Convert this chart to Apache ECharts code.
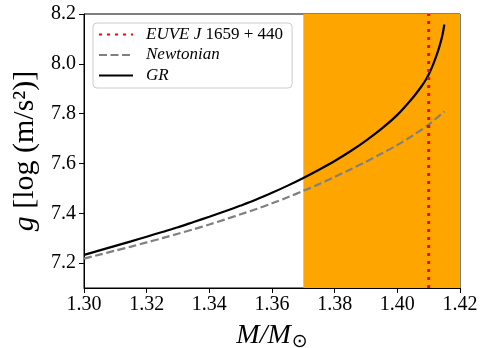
<!DOCTYPE html>
<html>
<head>
<meta charset="utf-8">
<script src="https://cdn.jsdelivr.net/npm/echarts@6/dist/echarts.min.js"></script>
<style>html,body{margin:0;padding:0;background:#fff}#c{width:480px;height:348px}</style>
</head>
<body>
<div id="c"></div>
<script>
const massGR = [1.300,1.305,1.310,1.315,1.320,1.325,1.330,1.335,1.340,1.345,1.350,1.355,1.360,1.365,1.370,1.375,1.380,1.385,1.390,1.395,1.400,1.405,1.4075,1.409,1.410,1.4115,1.413,1.414,1.4145,1.415];
const gGR    = [7.233,7.251,7.269,7.287,7.306,7.325,7.344,7.365,7.386,7.408,7.431,7.455,7.482,7.511,7.542,7.575,7.610,7.649,7.692,7.740,7.795,7.865,7.906,7.934,7.957,8.000,8.052,8.095,8.122,8.158];
const massNewt = [1.300,1.305,1.310,1.315,1.320,1.325,1.330,1.335,1.340,1.345,1.350,1.355,1.360,1.365,1.370,1.375,1.380,1.385,1.390,1.395,1.400,1.405,1.410,1.415];
const gNewt    = [7.218,7.234,7.250,7.266,7.283,7.300,7.318,7.336,7.355,7.375,7.396,7.417,7.440,7.464,7.490,7.517,7.546,7.576,7.607,7.640,7.674,7.713,7.756,7.809];
const euveMass = 1.41;
const bandRange = [1.37, 1.42];
const xTicks = [1.30,1.32,1.34,1.36,1.38,1.40,1.42];
const yTicks = [7.2,7.4,7.6,7.8,8.0,8.2];
const xRange = [1.30, 1.42];
const yRange = [7.1, 8.2];

const serif = 'Liberation Serif';
const chart = echarts.init(document.getElementById('c'), null, {renderer:'canvas'});
const zip = (a,b) => a.map((v,i)=>[v,b[i]]);

chart.setOption({
  animation:false,
  backgroundColor:'#fff',
  grid:{left:84, right:20, top:14, bottom:60, containLabel:false, outerBoundsMode:'none',
    show:true, borderColor:'#000', borderWidth:1, backgroundColor:'transparent'},
  legend:{
    orient:'vertical', left:93, top:23,
    data:['EUVE','Newtonian','GR'],
    backgroundColor:'#fff', borderColor:'#ccc', borderWidth:1, borderRadius:4,
    padding:[3,9,4,5], itemGap:3.5, itemWidth:34, itemHeight:20,
    itemStyle:{color:'transparent', borderWidth:0, opacity:0},
    formatter: n => n==='EUVE' ? '{i|EUVE J }{r|1659 + 440}' : '{i|'+n+'}',
    textStyle:{fontFamily:serif, fontSize:17, color:'#000', padding:[0,0,0,8],
      rich:{i:{fontFamily:serif,fontSize:17,fontStyle:'italic',color:'#000'}, r:{fontFamily:serif,fontSize:17,color:'#000'}}}
  },
  xAxis:{
    type:'value', min:xRange[0], max:xRange[1],
    name:'{i|M/M}{s|⊙}', nameLocation:'middle', nameGap:31,
    nameTextStyle:{rich:{i:{fontFamily:serif,fontSize:28,fontStyle:'italic',color:'#000'}, s:{fontFamily:'DejaVu Sans',fontSize:19,color:'#000',padding:[14,0,0,1]}}},
    axisLine:{onZero:false, lineStyle:{color:'#000', width:1}},
    axisTick:{length:5, lineStyle:{color:'#000'}, customValues:xTicks},
    axisLabel:{fontFamily:serif, fontSize:20, color:'#000', margin:7, customValues:xTicks, formatter:v=>v.toFixed(2)},
    splitLine:{show:false}
  },
  yAxis:{
    type:'value', min:yRange[0], max:yRange[1],
    name:'{i|g} [log (m/s²)]', nameLocation:'middle', nameGap:42, nameRotate:90,
    nameTextStyle:{fontFamily:serif, fontSize:30, color:'#000', rich:{i:{fontFamily:serif,fontSize:30,fontStyle:'italic',color:'#000'}}},
    axisLine:{onZero:false, lineStyle:{color:'#000', width:1}},
    axisTick:{length:5, lineStyle:{color:'#000'}, customValues:yTicks},
    axisLabel:{fontFamily:serif, fontSize:20, color:'#000', margin:8, customValues:yTicks, formatter:v=>v.toFixed(1)},
    splitLine:{show:false}
  },
  series:[
    {name:'band', type:'line', data:[], z:1, silent:true,
      markArea:{silent:true, itemStyle:{color:'#ffa500', opacity:1}, data:[[{xAxis:bandRange[0]},{xAxis:bandRange[1]}]]}},
    {name:'EUVE', type:'line', z:3, symbol:'none', data:[[euveMass,yRange[0]],[euveMass,yRange[1]]],
      lineStyle:{color:'#ff0000', width:3, type:[3,5], cap:'butt'}, itemStyle:{color:'#ff0000'}},
    {name:'Newtonian', type:'line', z:2, symbol:'none', smooth:0.3, data:zip(massNewt,gNewt),
      lineStyle:{color:'#808080', width:2.2, type:[8,3.5], cap:'butt'}, itemStyle:{color:'#808080'}},
    {name:'GR', type:'line', z:2, symbol:'none', smooth:0.3, data:zip(massGR,gGR),
      lineStyle:{color:'#000', width:2.2}, itemStyle:{color:'#000'}}
  ]
});
</script>
</body>
</html>
